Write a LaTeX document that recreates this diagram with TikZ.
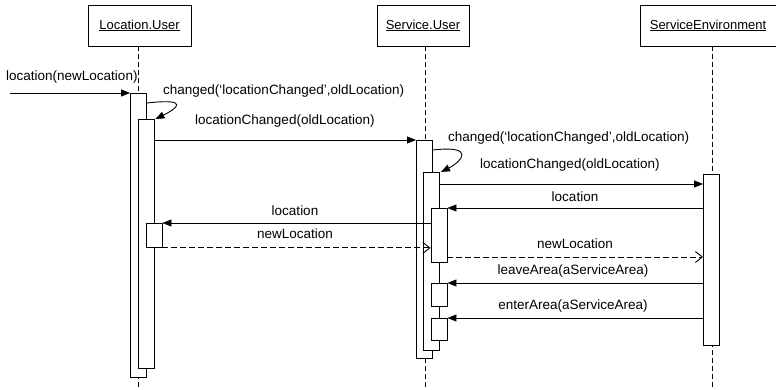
\documentclass[tikz,border=0pt]{standalone}
\usepackage{fontspec}
\setmainfont{Liberation Sans}
\usetikzlibrary{arrows.meta}
\begin{document}
\begin{tikzpicture}[x=1pt,y=-1pt,
  font=\fontsize{13.5}{16}\selectfont,
  obj/.style={draw, line width=0.9pt, fill=white, minimum width=#1, minimum height=41pt, inner sep=0pt, font=\fontsize{13}{15}\selectfont},
  bar/.style={draw, line width=0.9pt, fill=white, minimum width=16pt, minimum height=#1, inner sep=0pt, anchor=north},
  life/.style={line width=0.8pt, dash pattern=on 5pt off 3pt},
  call/.style={line width=0.9pt, -{Triangle[length=9pt,width=7pt]}},
  ret/.style={line width=0.9pt, dash pattern=on 6pt off 3pt, -{Straight Barb[length=7pt,width=11pt]}},
  lbl/.style={inner sep=0pt}
]
\useasboundingbox (0,0) rectangle (776,390);

% objects
\node[obj=103pt] (lu) at (139.5,25.5) {\underline{Location.User}};
\node[obj=92pt] (su) at (423,25.5) {\underline{Service.User}};
\node[obj=136pt] (se) at (708,25.5) {\underline{ServiceEnvironment}};

% lifelines
\coordinate (luend) at (138,390);
\coordinate (suend) at (425,390);
\coordinate (seend) at (712,390);
\draw[life] (lu.south -| luend) -- (luend);
\draw[life] (su.south -| suend) -- (suend);
\draw[life] (se.south -| seend) -- (seend);

% activation bars
\node[bar=284pt] (lu1) at (138.5,93) {};
\node[bar=249pt] (lu2) at (146,119) {};
\node[bar=24pt]  (lu3) at (154,223) {};
\node[bar=218pt] (su1) at (424.5,140) {};
\node[bar=178pt] (su2) at (431.5,172) {};
\node[bar=54pt]  (su3) at (439,208) {};
\node[bar=23pt]  (su4) at (439,283) {};
\node[bar=22pt]  (su5) at (439,318) {};
\node[bar=171pt] (se1) at (711.5,174) {};

% messages
\coordinate (start) at (10,93);
\draw[call] (start) -- (lu1.north west);
\node[lbl, anchor=west] (m1) at (6,77) {location(newLocation)};

\draw[call] ([yshift=-10pt]lu1.north east) .. controls (192,98) and (176,109) .. ([xshift=1pt]lu2.north east);
\node[lbl, anchor=west] (m2) at (163,91) {changed(`locationChanged',oldLocation)};

\draw[call] (lu2.east |- su1.north) -- (su1.north west);
\node[lbl, anchor=west] (m3) at (195,121) {locationChanged(oldLocation)};

\draw[call] ([yshift=-10pt]su1.north east) .. controls (477,145) and (461,162) .. ([xshift=1pt]su2.north east);
\node[lbl, anchor=west] (m4) at (448,138) {changed(`locationChanged',oldLocation)};

\coordinate (y5) at (0,184);
\draw[call] (su2.east |- y5) -- (se1.west |- y5);
\node[lbl, anchor=west] (m5) at (480,165) {locationChanged(oldLocation)};

\draw[call] (se1.west |- su3.north) -- (su3.north east);
\node[lbl] (m6) at (575,197) {location};

\draw[call] (su3.west |- lu3.north) -- (lu3.north east);
\node[lbl] (m7) at (295,211) {location};

\draw[ret] (lu3.south east) -- (su3.west |- lu3.south);
\node[lbl] (m8) at (295,234) {newLocation};

\coordinate (y9) at (0,257);
\draw[ret] (su3.east |- y9) -- (se1.west |- y9);
\node[lbl] (m9) at (575,244) {newLocation};

\draw[call] (se1.west |- su4.north) -- (su4.north east);
\node[lbl] (m10) at (573,271) {leaveArea(aServiceArea)};

\draw[call] (se1.west |- su5.north) -- (su5.north east);
\node[lbl] (m11) at (573,306) {enterArea(aServiceArea)};
\end{tikzpicture}
\end{document}
